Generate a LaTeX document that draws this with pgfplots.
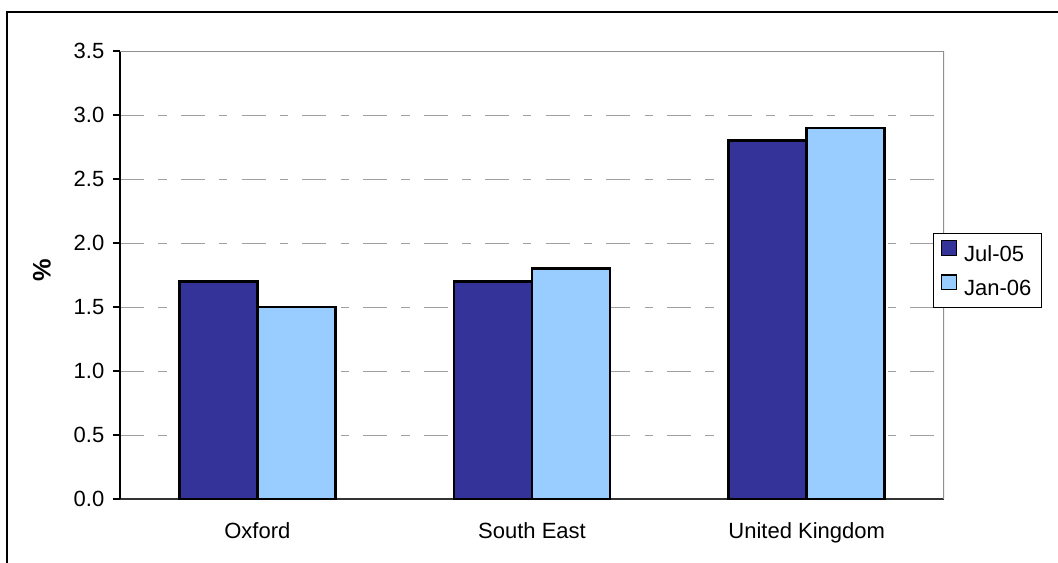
\documentclass[border=0pt]{standalone}
\usepackage{fontspec}
\setmainfont{Liberation Sans}
\usepackage{pgfplots}
\pgfplotsset{compat=1.18}
\definecolor{darkb}{HTML}{333399}
\definecolor{lightb}{HTML}{99CCFF}
\definecolor{gridg}{HTML}{A0A0A0}
\begin{document}
\begin{tikzpicture}[font=\fontsize{16.5}{19}\selectfont]
\useasboundingbox (0,0) rectangle (793.5pt,421.5pt);
\draw[black, line width=0.9pt] (5.25pt,-2pt) -- (5.25pt,412.5pt) -- (800pt,412.5pt);
\begin{axis}[
  at={(90pt,47.25pt)}, anchor=south west,
  scale only axis, width=618pt, height=336pt,
  ybar=0pt, bar width=58.5pt,
  xmin=-0.5, xmax=2.5, ymin=0, ymax=3.5,
  xtick={0,1,2}, xticklabels={Oxford,South East,United Kingdom},
  xtick style={draw=none},
  minor xtick={-0.5,0.5,1.5,2.5},
  minor tick length=5.25pt,
  major tick length=5.25pt,
  tick align=outside,
  ytick={0,0.5,...,3.5},
  yticklabel style={/pgf/number format/fixed, /pgf/number format/fixed zerofill, /pgf/number format/precision=1, xshift=-3pt},
  /pgf/number format/assume math mode=true,
  ymajorgrids,
  grid style={gridg, line width=0.75pt, dash pattern=on 18pt off 10.7pt on 6.2pt off 10.7pt},
  axis x line*=bottom, axis y line*=left,
  x axis line style={black!80, line width=1.5pt, -},
  y axis line style={black, line width=1pt, -},
  every tick/.style={black, line width=0.9pt},
  minor x tick style={black, line width=0.9pt},
  tick label style={font=\fontsize{16.5}{19}\selectfont},
  xticklabel style={yshift=-9pt},
  ylabel={\textbf{\%}},
  ylabel style={at={(axis description cs:-0.0947,0.51)}, anchor=center, font=\fontsize{19}{22}\selectfont},
  legend style={at={(rel axis cs:0.9867,0.5938)}, anchor=north west, draw=black, line width=0.75pt,
    font=\fontsize{16.5}{19}\selectfont, inner xsep=5.5pt, inner ysep=5pt, row sep=6pt, cells={anchor=west}},
  legend image code/.code={\draw[#1, draw=black, line width=1pt] (0pt,-0.5pt) rectangle (11pt,10.5pt);},
  legend style={/tikz/every odd column/.append style={column sep=3.5pt}},
]
\addplot[fill=darkb, draw=black, line width=1.8pt] coordinates {(0,1.7) (1,1.7) (2,2.8)};
\addplot[fill=lightb, draw=black, line width=1.8pt] coordinates {(0,1.5) (1,1.8) (2,2.9)};
\legend{Jul-05,Jan-06}
\draw[gridg!90!black, line width=1.2pt] (rel axis cs:0,1) -- (rel axis cs:1,1) -- (rel axis cs:1,0);
\end{axis}
\end{tikzpicture}
\end{document}
